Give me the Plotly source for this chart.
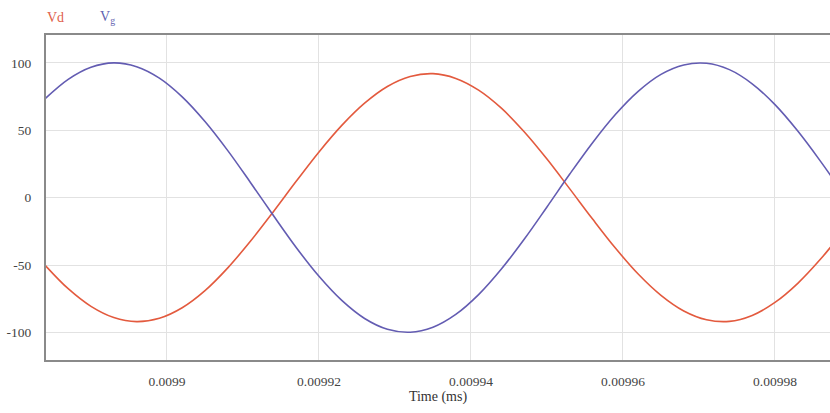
import plotly.graph_objects as go

# Time axis (ms)
time_ms = [0.009884, 0.009887, 0.009890, 0.009893, 0.009896, 0.009899, 0.009902,
           0.009905, 0.009908, 0.009911, 0.009914, 0.009917, 0.009920, 0.009923,
           0.009926, 0.009929, 0.009932, 0.009935, 0.009938, 0.009941, 0.009944,
           0.009947, 0.009950, 0.009953, 0.009956, 0.009959, 0.009962, 0.009965,
           0.009968, 0.009971, 0.009974, 0.009977, 0.009980, 0.009983, 0.009986,
           0.009989]

vd = [-50.4, -67.6, -80.7, -89.0, -92.0, -89.5, -81.7, -69.0, -52.1, -32.2,
      -10.4, 12.1, 33.9, 53.6, 70.1, 82.5, 89.9, 92.0, 88.5, 79.8,
      66.4, 48.9, 28.6, 6.5, -15.9, -37.4, -56.7, -72.5, -84.1, -90.6,
      -91.8, -87.4, -77.8, -63.6, -45.6, -24.9]

vg = [73.6, 87.8, 96.8, 100.0, 97.2, 88.7, 74.8, 56.5, 34.9, 11.1,
      -13.3, -37.0, -58.4, -76.3, -89.7, -97.7, -99.9, -96.2, -86.7, -72.0,
      -53.0, -30.9, -6.9, 17.5, 40.8, 61.7, 78.9, 91.5, 98.5, 99.7,
      95.0, 84.5, 69.0, 49.4, 26.9, 2.7]

x_ticks = [0.0099, 0.00992, 0.00994, 0.00996, 0.00998]
x_tick_labels = ["0.0099", "0.00992", "0.00994", "0.00996", "0.00998"]
y_ticks = [-100, -50, 0, 50, 100]
y_tick_labels = ["-100", "-50", "0", "50", "100"]

RED = "#e35a3e"
BLUE = "#635cb2"
FONT = "Liberation Serif"

W, H = 830, 413
ML, MR, MT, MB = 46, 0, 35, 53

fig = go.Figure()
fig.add_trace(go.Scatter(x=time_ms, y=vd, mode="lines", name="Vd",
                         line=dict(color=RED, width=1.6, shape="spline")))
fig.add_trace(go.Scatter(x=time_ms, y=vg, mode="lines", name="Vg",
                         line=dict(color=BLUE, width=1.6, shape="spline")))

def px_to_paper(px, py):
    return (px - ML) / (W - ML - MR), 1 + (MT - py) / (H - MT - MB)

ax1, ay1 = px_to_paper(45, 17)
ax2, ay2 = px_to_paper(98, 17)

fig.update_layout(
    width=W, height=H,
    margin=dict(l=ML, r=MR, t=MT, b=MB, autoexpand=False),
    paper_bgcolor="white", plot_bgcolor="white",
    showlegend=False,
    font=dict(family=FONT, size=13, color="#444444"),
    annotations=[
        dict(text="Vd", x=ax1, y=ay1, xref="paper", yref="paper", showarrow=False,
             xanchor="left", yanchor="middle",
             font=dict(family=FONT, size=14, color="#e0604a")),
        dict(text="V<sub>g</sub>", x=ax2, y=ay2, xref="paper", yref="paper", showarrow=False,
             xanchor="left", yanchor="middle",
             font=dict(family=FONT, size=14, color="#5f5fb0")),
    ],
)

fig.update_xaxes(
    range=[0.00988408, 0.00998724],
    tickvals=x_ticks, ticktext=x_tick_labels,
    tickfont=dict(family=FONT, size=13.5, color="#444444"),
    showgrid=True, gridcolor="#e2e2e2", gridwidth=1,
    showline=True, linecolor="#8a8a8a", linewidth=2, mirror=True,
    ticks="outside", ticklen=8, tickcolor="rgba(0,0,0,0)",
    zeroline=False, automargin=False,
    title=dict(text="Time (ms)", standoff=3, font=dict(family=FONT, size=14, color="#333333")),
)
fig.update_yaxes(
    range=[-120.5, 120.7],
    tickvals=y_ticks, ticktext=y_tick_labels,
    tickfont=dict(family=FONT, size=13.5, color="#444444"),
    showgrid=True, gridcolor="#e2e2e2", gridwidth=1,
    showline=True, linecolor="#8a8a8a", linewidth=2, mirror=False,
    ticks="outside", ticklen=10, tickcolor="rgba(0,0,0,0)",
    zeroline=False, automargin=False,
)

fig.write_html(
    "out.html",
    config={"displayModeBar": False},
    post_script="document.body.style.margin='0';"
                "document.documentElement.style.overflow='hidden';",
)
